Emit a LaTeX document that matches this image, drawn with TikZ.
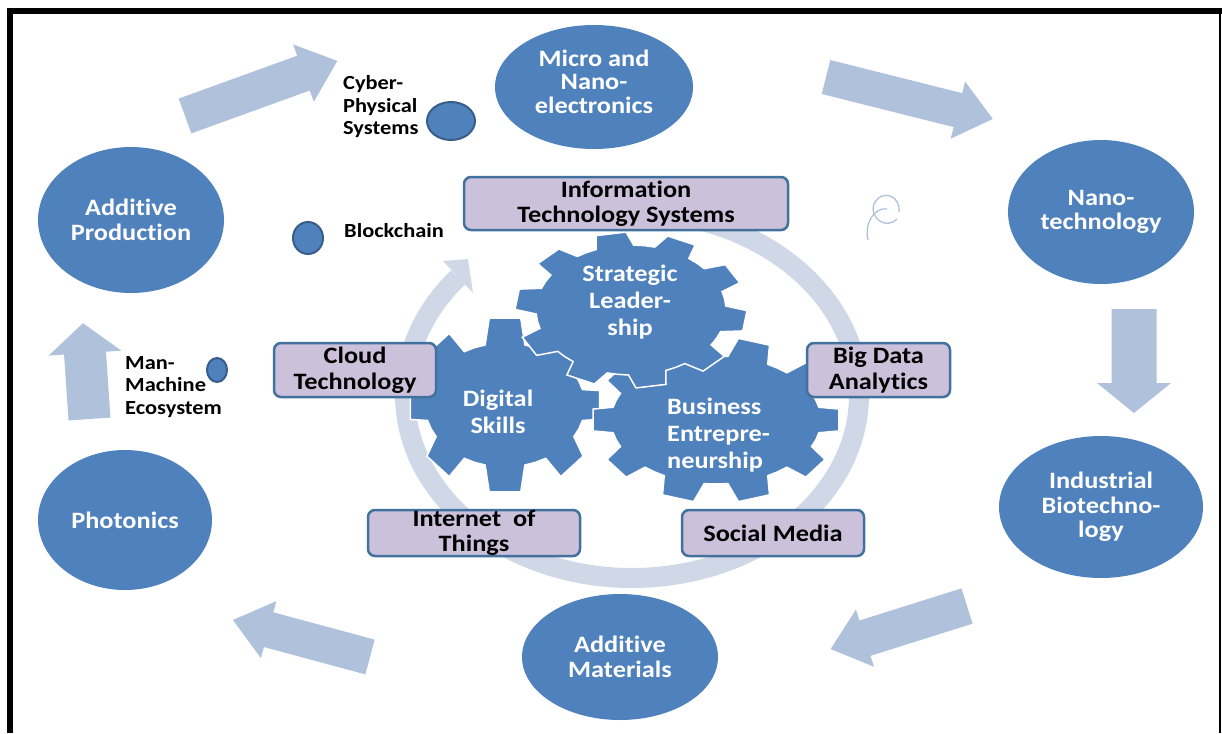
\documentclass[tikz,border=0pt]{standalone}
\usepackage{fontspec}
\setmainfont{Carlito}[FakeStretch=1.12, Ligatures=NoCommon]
\usetikzlibrary{shapes}

\definecolor{nodeblue}{HTML}{4F81BD}
\definecolor{arrowblue}{HTML}{B0C1DC}
\definecolor{ringblue}{HTML}{D0D8E8}
\definecolor{boxfill}{HTML}{CCC1DA}
\definecolor{boxline}{HTML}{41719C}
\definecolor{dotline}{HTML}{385D8A}

% block arrow: base, angle, length, shaft width, head width, head length
\newcommand{\bigarrow}[6]{%
  \fill[arrowblue, shift={#1}, rotate=#2]
    (0,-#4/2) -- (#3-#6,-#4/2) -- (#3-#6,-#5/2) -- (#3,0)
    -- (#3-#6,#5/2) -- (#3-#6,#4/2) -- (0,#4/2) -- cycle;}

% gear: cx, cy, root rx, root ry, tip rx, tip ry, teeth, phase
\newcommand{\gearshape}[8]{%
  \pgfmathsetmacro{\gstep}{360/#7}%
  \pgfmathtruncatemacro{\glast}{#7-1}%
  \filldraw[gear] ({#1+#3*cos(#8-0.32*\gstep)},{#2+#4*sin(#8-0.32*\gstep)})
    \foreach \k in {0,...,\glast}{
      -- ({#1+#5*cos(#8+(\k-0.21)*\gstep)},{#2+#6*sin(#8+(\k-0.21)*\gstep)})
      -- ({#1+#5*cos(#8+(\k+0.21)*\gstep)},{#2+#6*sin(#8+(\k+0.21)*\gstep)})
      -- ({#1+#3*cos(#8+(\k+0.32)*\gstep)},{#2+#4*sin(#8+(\k+0.32)*\gstep)})
      -- ({#1+#3*cos(#8+(\k+0.5)*\gstep)},{#2+#4*sin(#8+(\k+0.5)*\gstep)})
      -- ({#1+#3*cos(#8+(\k+0.68)*\gstep)},{#2+#4*sin(#8+(\k+0.68)*\gstep)})
    } -- cycle;}

\begin{document}
\begin{tikzpicture}[x=1pt,y=-1pt,line join=miter,
  topic/.style={ellipse, fill=nodeblue, text=white, inner sep=0pt, align=center,
    font=\fontsize{23.5}{24.5}\selectfont\bfseries},
  topictext/.style={inner sep=0pt, text=white, align=center,
    font=\fontsize{23.5}{23.5}\selectfont\bfseries},
  techbox/.style={rectangle, rounded corners=7pt, draw=boxline, line width=2.5pt,
    fill=boxfill, inner sep=0pt, align=center, font=\fontsize{23.5}{25.5}\selectfont\bfseries},
  dot/.style={ellipse, fill=nodeblue, draw=dotline, line width=2pt, inner sep=0pt},
  tag/.style={inner sep=0pt, align=left, font=\fontsize{20}{22.5}\selectfont\bfseries},
  geartext/.style={inner sep=0pt, text=white, align=center,
    font=\fontsize{23.5}{27}\selectfont\bfseries},
  gear/.style={fill=nodeblue, draw=white, line width=1.5pt}]

\useasboundingbox (0,0) rectangle (1222,733);

% Cycle arrows
\bigarrow{(185,116)}{19.9}{162}{37}{61}{36}
\bigarrow{(826,77)}{-14.1}{172}{35}{59}{36}
\bigarrow{(1134,309)}{-90}{104}{45}{74}{30}
\bigarrow{(967,606)}{197.5}{143}{37}{60}{36}
\bigarrow{(370,657)}{164.9}{142}{36}{59}{37}
\bigarrow{(89.5,419)}{93.9}{96}{42}{73}{30}

% Ring
\draw[ringblue, line width=20pt] ({632+227*cos(-95)},{395+183*sin(-95)})
  arc[start angle=-95, end angle=220, x radius=227, y radius=183];
\fill[ringblue] (443,261) -- (468,259) -- (473,293) -- cycle;

% Stray mark
\draw[arrowblue, line width=1.3pt] (899,212) .. controls (901,196) and (882,188) .. (874,204)
  .. controls (869,218) and (886,230) .. (897,219);
\draw[arrowblue, line width=1.3pt] (887,209) .. controls (874,207) and (864,224) .. (868,240);

% Gears
\gearshape{505}{405}{80}{62}{96}{88}{8}{-90}
\gearshape{716}{420}{105}{64}{124}{83}{10}{72}
\gearshape{631}{310}{95}{65}{116}{78}{10}{-100}

\node[geartext] (lead) at (630,302) {Strategic\\Leader-\\ship};
\node[geartext] (digital) at (498,412) {Digital\\Skills};
\node[geartext, align=left, anchor=west] (biz) at (667,435) {Business\\Entrepre-\\neurship};

% Topics
\node[topic, minimum width=198pt, minimum height=124pt] (micro) at (594,87) {};
\node[topictext] (microlbl) at (594,81.5) {Micro and\\Nano-\\electronics};
\node[topic, minimum width=186pt, minimum height=144pt] (nano) at (1101,212) {Nano-\\technology};
\node[topic, minimum width=204pt, minimum height=142pt] (biotech) at (1101,507) {Industrial\\Biotechno-\\logy};
\node[topic, minimum width=196pt, minimum height=126pt] (addmat) at (620,657) {Additive\\Materials};
\node[topic, minimum width=174pt, minimum height=140pt] (photon) at (125,520) {Photonics};
\node[topic, minimum width=186pt, minimum height=146pt] (addprod) at (131,220) {Additive\\Production};

% Technology boxes
\node[techbox, minimum width=324pt, minimum height=53pt] (its) at (626,203.5) {Information\\Technology Systems};
\node[techbox, minimum width=162pt, minimum height=54pt] (cloud) at (355,370) {Cloud\\Technology};
\node[techbox, minimum width=143pt, minimum height=54pt] (bigdata) at (878.5,370) {Big Data\\Analytics};
\node[techbox, minimum width=212pt, minimum height=46pt] (iot) at (474,533) {Internet\ \ of\\Things};
\node[techbox, minimum width=182pt, minimum height=46pt] (social) at (773,533) {Social Media};

% Small dots and their labels
\node[dot, minimum width=48pt, minimum height=38pt] (cps) at (451,121) {};
\node[dot, minimum width=30pt, minimum height=32pt] (chain) at (308,238) {};
\node[dot, minimum width=20pt, minimum height=24pt] (mme) at (217,370) {};
\node[tag, anchor=west] (cpslbl) at (343,107) {Cyber-\\Physical\\Systems};
\node[tag, anchor=west] (chainlbl) at (344,231) {Blockchain};
\node[tag, anchor=west] (mmelbl) at (125,387) {Man-\\Machine\\Ecosystem};

% Frame
\draw[line width=6pt] (7,11) -- (1222,11);
\draw[line width=6pt] (10,8) -- (10,733);
\draw[line width=1.5pt] (1220,11) -- (1220,733);

\end{tikzpicture}
\end{document}
